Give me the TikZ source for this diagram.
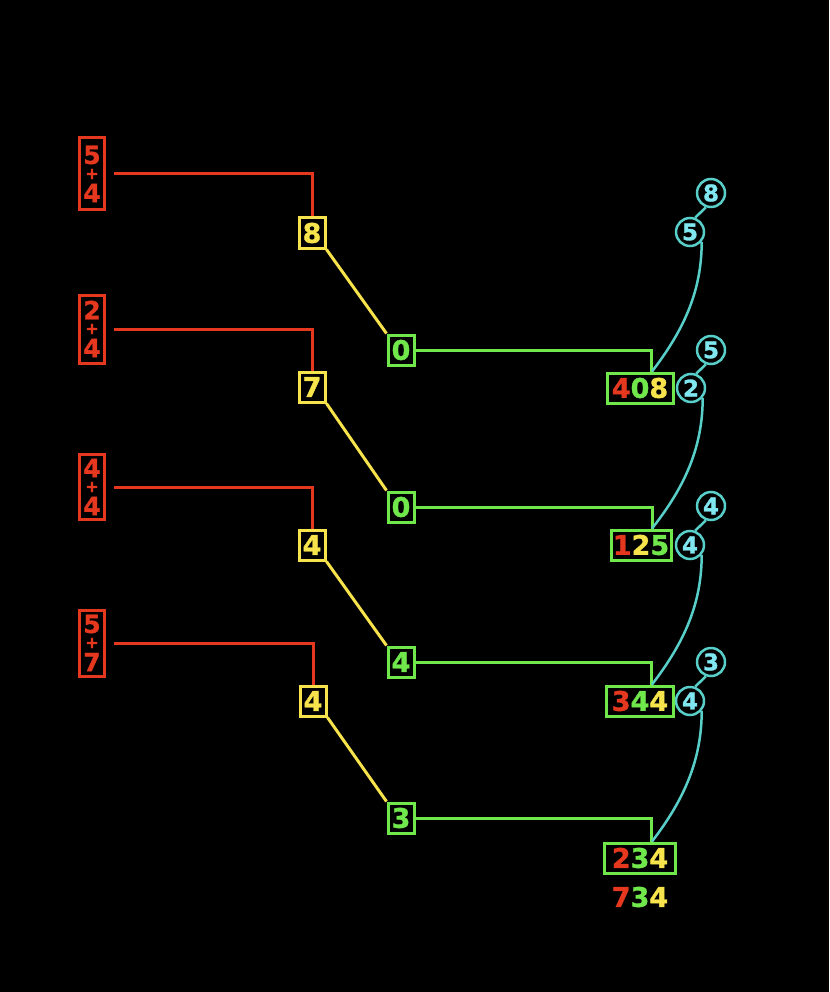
\documentclass[tikz,border=0pt]{standalone}
\usepackage{fontspec}
\setmainfont{DejaVu Sans}[BoldFont={DejaVu Sans Bold}, BoldFeatures={FakeBold=1.2}]
\usetikzlibrary{calc}
\definecolor{cred}{HTML}{E5381F}
\definecolor{cyel}{HTML}{F7E34B}
\definecolor{cgrn}{HTML}{70E84C}
\definecolor{ccyl}{HTML}{58CFC9}
\definecolor{ccyt}{HTML}{80E6F0}
\newcommand{\dig}{\fontsize{27}{27}\selectfont\bfseries}
\newcommand{\rdig}{\fontsize{25}{25}\selectfont\bfseries}
\newcommand{\R}[1]{\textcolor{cred}{#1}}
\newcommand{\G}[1]{\textcolor{cgrn}{#1}}
\newcommand{\Y}[1]{\textcolor{cyel}{#1}}
\tikzset{
  rbox/.style={draw=cred, line width=3pt, minimum width=25pt, minimum height=68pt, inner sep=0pt},
  rtxt/.style={text=cred, inner sep=0pt, font=\rdig},
  rplus/.style={text=cred, inner sep=0pt, font=\fontsize{16}{16}\selectfont\bfseries},
  ybox/.style={draw=cyel, line width=3pt, text=cyel, minimum width=26pt, minimum height=30pt, inner sep=0pt, font=\dig},
  gbox/.style={draw=cgrn, line width=3pt, text=cgrn, minimum width=26pt, minimum height=30pt, inner sep=0pt, font=\dig},
  obox/.style={draw=cgrn, line width=3pt, minimum width=66pt, minimum height=30pt, inner sep=0pt, font=\dig},
  cyc/.style={circle, draw=ccyl, line width=2.5pt, text=ccyt, minimum size=28pt, inner sep=0pt, font=\fontsize{23}{23}\selectfont\bfseries},
  rl/.style={draw=cred, line width=3pt, shorten <=8pt},
  yl/.style={draw=cyel, line width=3pt},
  gl/.style={draw=cgrn, line width=3pt},
  cl/.style={draw=ccyl, line width=2.5pt}
}
\begin{document}
\begin{tikzpicture}[x=1pt,y=-1pt]
\fill[black] (0,0) rectangle (829,992);
\useasboundingbox (0,0) rectangle (829,992);
% red boxes
\node[rbox, minimum height=72pt] (r1) at (92,174) {};
\node[rbox] (r2) at (92,329) {};
\node[rbox, minimum height=65pt] (r3) at (92,487) {};
\node[rbox, minimum height=66pt] (r4) at (92,643) {};
\node[rtxt] (r1a) at (92,155) {5};
\node[rplus] (r1p) at (92,174) {+};
\node[rtxt] (r1b) at (92,193) {4};
\node[rtxt] (r2a) at (92,310) {2};
\node[rplus] (r2p) at (92,329) {+};
\node[rtxt] (r2b) at (92,348) {4};
\node[rtxt] (r3a) at (92,468) {4};
\node[rplus] (r3p) at (92,487) {+};
\node[rtxt] (r3b) at (92,506) {4};
\node[rtxt] (r4a) at (92,624) {5};
\node[rplus] (r4p) at (92,643) {+};
\node[rtxt] (r4b) at (92,662) {7};
% yellow
\node[ybox] (y1) at (312,233) {8};
\node[ybox] (y2) at (312,387) {7};
\node[ybox] (y3) at (312,545) {4};
\node[ybox] (y4) at (313,701) {4};
% green
\node[gbox] (g1) at (401,350) {0};
\node[gbox] (g2) at (401,507) {0};
\node[gbox] (g3) at (401,662) {4};
\node[gbox] (g4) at (401,818) {3};
% results
\node[obox] (o1) at (640,388) {\R{4}\G{0}\Y{8}};
\node[obox, minimum width=60pt] (o2) at (641,545) {\R{1}\Y{2}\G{5}};
\node[obox, minimum width=67pt] (o3) at (640,701) {\R{3}\G{4}\Y{4}};
\node[obox, minimum width=71pt] (o4) at (640,858) {\R{2}\G{3}\Y{4}};
\node[font=\dig, inner sep=0pt] (fin) at (640,897) {\R{7}\G{3}\Y{4}};
% cyan circles
\node[cyc] (ca1) at (711,193) {8};
\node[cyc] (cb1) at (690,232) {5};
\node[cyc] (ca2) at (711,350) {5};
\node[cyc] (cb2) at (691,388) {2};
\node[cyc] (ca3) at (711,506) {4};
\node[cyc] (cb3) at (690,545) {4};
\node[cyc] (ca4) at (711,662) {3};
\node[cyc] (cb4) at (690,701) {4};
% connectors
\foreach \i in {1,2,3,4}{
  \draw[rl] (r\i.east) -| (y\i.north);
  \draw[yl] (y\i.south east) -- (g\i.north west);
  \draw[gl] (g\i.east) -| ([xshift=11pt]o\i.north);
  \draw[cl] (ca\i.250) -- (cb\i.70);
}
\draw[cl] (cb1.-40) .. controls ($(cb1.-40)+(0,48)$) and ($(o1.north)+(45,-43)$) .. ([xshift=12pt]o1.north);
\draw[cl] (cb2.-40) .. controls ($(cb2.-40)+(0,48)$) and ($(o2.north)+(45,-43)$) .. ([xshift=11pt]o2.north);
\draw[cl] (cb3.-40) .. controls ($(cb3.-40)+(0,48)$) and ($(o3.north)+(45,-43)$) .. ([xshift=12pt]o3.north);
\draw[cl] (cb4.-40) .. controls ($(cb4.-40)+(0,48)$) and ($(o4.north)+(45,-43)$) .. ([xshift=12pt]o4.north);
\end{tikzpicture}
\end{document}
